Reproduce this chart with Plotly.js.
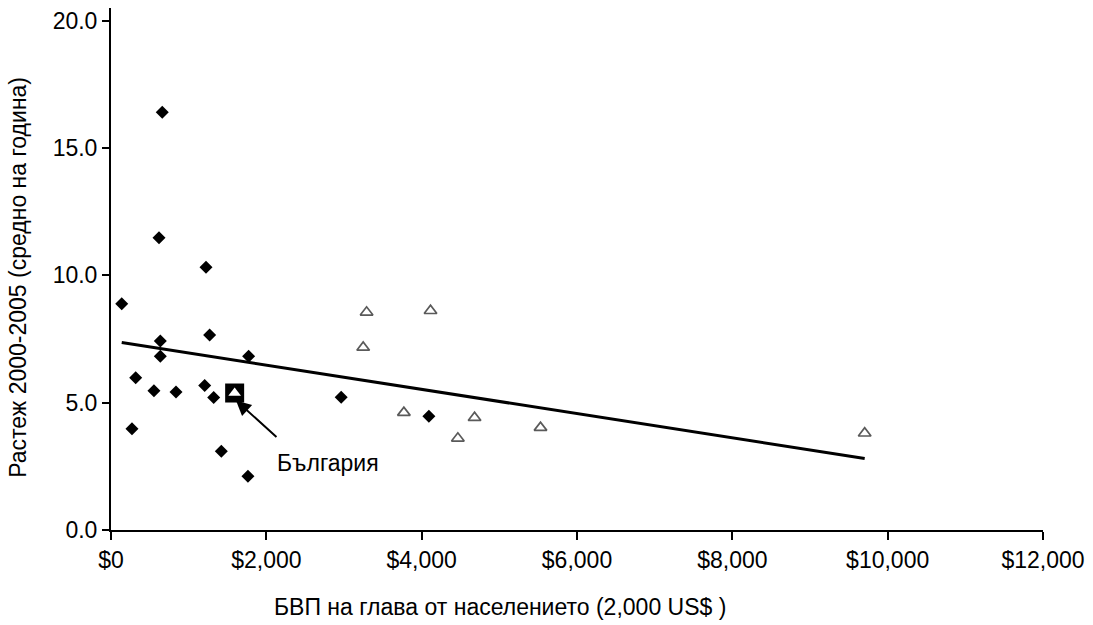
<!DOCTYPE html>
<html>
<head>
<meta charset="utf-8">
<script src="https://cdn.plot.ly/plotly-3.0.1.min.js"></script>
<style>html,body{margin:0;padding:0;background:#fff;}#chart{width:1093px;height:625px;}</style>
</head>
<body>
<div id="chart"></div>
<script>
// Black diamonds
var diamondX = [660, 618, 1223, 138, 1270, 635, 635, 1772, 318, 553, 837, 1206, 1322, 270, 1420, 1763, 2964, 4093];
var diamondY = [16.41, 11.48, 10.32, 8.89, 7.66, 7.42, 6.82, 6.82, 5.98, 5.47, 5.42, 5.67, 5.20, 3.98, 3.09, 2.11, 5.21, 4.47];
// Open grey triangles
var triangleX = [3291, 4114, 3247, 3771, 4681, 4466, 5530, 9704];
var triangleY = [8.55, 8.61, 7.17, 4.61, 4.41, 3.60, 4.02, 3.80];
// Bulgaria
var bulgariaX = [1592];
var bulgariaY = [5.38];
var bulgariaLabel = 'България';
// Trend line end points
var trendX = [138, 9704];
var trendY = [7.36, 2.81];
// Axis ticks
var xTicks = [0, 2000, 4000, 6000, 8000, 10000, 12000];
var xTickText = ['$0', '$2,000', '$4,000', '$6,000', '$8,000', '$10,000', '$12,000'];
var yTicks = [0, 5, 10, 15, 20];
var yTickText = ['0.0', '5.0', '10.0', '15.0', '20.0'];
var xTitle = 'БВП на глава от населението (2,000 US$ )';
var yTitle = 'Растеж 2000-2005 (средно на година)';

var font = 'Liberation Sans, Arial, sans-serif';
var fs = 23;

var traces = [
  {x: trendX, y: trendY, mode: 'lines', line: {color: '#000', width: 3}, hoverinfo: 'skip'},
  {x: diamondX, y: diamondY, mode: 'markers', marker: {symbol: 'diamond', size: 10, color: '#000'}},
  {x: triangleX, y: triangleY, mode: 'markers', marker: {symbol: 'triangle-up-open', size: 11, color: '#5a5a5a', line: {color: '#5a5a5a', width: 1.7}}},
  {x: bulgariaX, y: bulgariaY, mode: 'markers', marker: {symbol: 'square', size: 19, color: '#000'}},
  {x: bulgariaX, y: bulgariaY, mode: 'markers', marker: {symbol: 'triangle-up', size: 11, color: '#fff'}}
];

var layout = {
  width: 1093, height: 625,
  margin: {l: 111, r: 50, t: 8, b: 95},
  paper_bgcolor: '#fff', plot_bgcolor: '#fff',
  showlegend: false,
  font: {family: font, size: fs, color: '#000'},
  xaxis: {
    range: [0, 12000], tickvals: xTicks, ticktext: xTickText,
    showgrid: false, zeroline: false, showline: true, linecolor: '#000', linewidth: 2,
    ticks: 'outside', ticklen: 8, tickwidth: 2, tickcolor: '#000',
    tickfont: {family: font, size: fs, color: '#000'}
  },
  yaxis: {
    range: [0, 20.5], tickvals: yTicks, ticktext: yTickText,
    showgrid: false, zeroline: false, showline: true, linecolor: '#000', linewidth: 2,
    ticks: 'outside', ticklen: 7, tickwidth: 2, tickcolor: '#000',
    tickfont: {family: font, size: fs, color: '#000'}
  },
  annotations: [
    {x: 1609, y: 5.09, xref: 'x', yref: 'y', ax: 42, ay: 38, text: '', showarrow: true,
     arrowhead: 2, arrowsize: 1.5, arrowwidth: 2, arrowcolor: '#000'},
    {x: 2111, y: 2.62, xref: 'x', yref: 'y', text: bulgariaLabel, showarrow: false,
     xanchor: 'left', yanchor: 'middle', font: {family: font, size: fs, color: '#000'}},
    {x: 0.417, y: -0.1475, xref: 'paper', yref: 'paper', text: xTitle, showarrow: false,
     xanchor: 'center', yanchor: 'middle', font: {family: font, size: fs, color: '#000'}},
    {x: -0.0998, y: 0.485, xref: 'paper', yref: 'paper', text: yTitle, showarrow: false, textangle: -90,
     xanchor: 'center', yanchor: 'middle', font: {family: font, size: fs, color: '#000'}}
  ]
};

Plotly.newPlot('chart', traces, layout, {displayModeBar: false, staticPlot: true});
</script>
</body>
</html>
